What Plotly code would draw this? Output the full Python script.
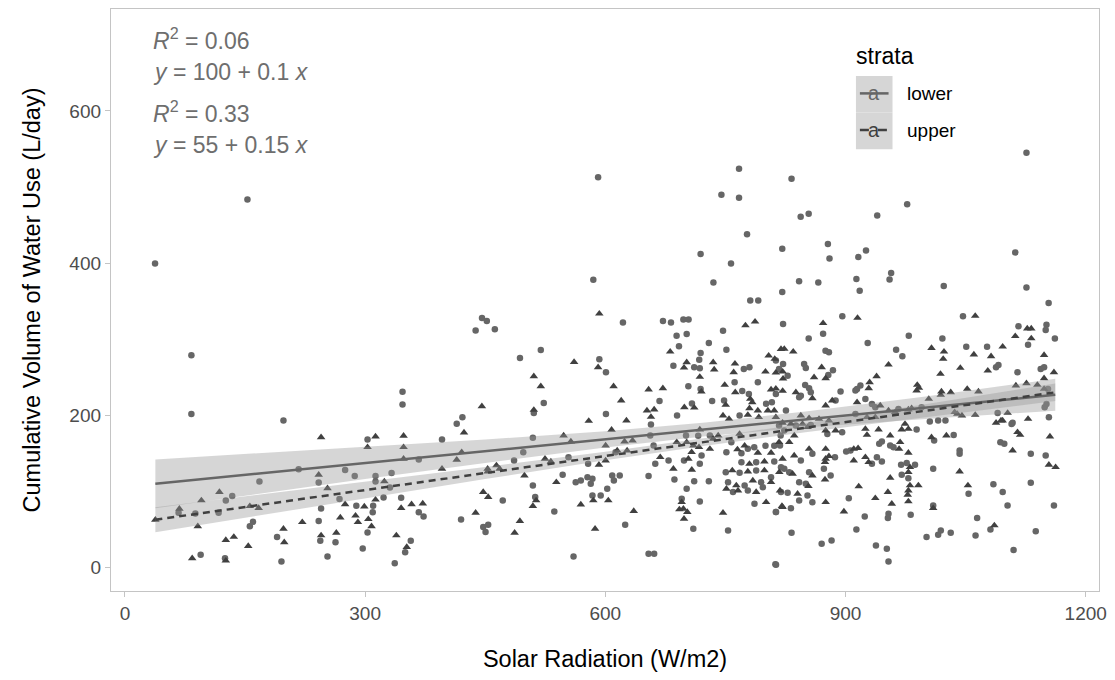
import plotly.graph_objects as go

# ---------------- data ----------------
lower_x = [153, 37.6, 591, 767, 745, 767, 777, 821, 719, 757, 585, 735, 821, 781, 791, 822, 446, 452, 438, 462, 622, 672, 682, 697.5, 704, 689, 701.6, 747,
           1126, 832.6, 977, 844, 854, 939.6, 878, 880, 916, 925.6, 1112, 842, 866, 913.6, 917.7, 955, 957, 1022.7, 1126, 1153.7, 1046.7, 896, 872, 854, 979, 1021, 1116, 1151, 1150, 1161.5,
           83, 83, 198, 346.7, 346.7, 303, 396, 367, 168, 217, 242, 275, 287, 313, 313, 333, 331, 323, 310, 309.5, 126, 134, 67, 88, 117, 160, 156, 242, 245, 268, 289, 303, 345, 367, 373, 190, 244, 263, 297, 357, 350, 94.6, 125, 195.5, 253, 337,
           519.4, 493.4, 592.5, 600.8, 523.1, 510.7, 421.5, 414.4, 600.8, 667.7, 657, 689.6, 708.2, 692, 729.3, 719, 717.3, 751.2, 685, 711, 718, 703.7, 719, 733.4, 773, 780, 761.5, 748.3, 771, 779.3, 790.5, 813, 800.8, 808, 767.7,
           509.5, 612.8, 660.3, 656.1, 700.8, 716, 730.6, 720.2, 698.3, 679, 662.4, 718, 751.2, 757.4, 770, 778, 786, 800, 811, 770, 788.4, 811, 750.4, 767.7, 788.4, 807, 753.3, 774, 794.6, 759.5, 778, 796.7, 819.4, 786.3, 813, 753.3,
           486, 497.5, 554, 509.5, 546.7, 578.5, 563, 569.4, 577.7, 583.9, 581.8, 608.6, 610.7, 618, 602.4, 583.9, 594.2, 654, 686.3, 701.6, 711, 729.3, 471.9, 512.4, 536.3, 695.4, 718, 419.8, 447.5, 453.7, 450.4, 624.8, 709.9, 560.3, 654, 661, 812.4,
           927.7, 875, 879.3, 963.2, 971, 1050.8, 1076.8, 1128, 813, 822, 817, 848.3, 850.4, 878.5, 884.3, 827.7, 849.6, 854.5, 856.6, 842.1, 844.2, 893.8, 918.6, 914.4, 912.4, 1088, 1091, 1114.8, 1143.8, 1148, 1152.9, 924.8, 933, 937.2, 887.6, 825.6, 912.4, 966.1, 995, 1090, 1108.7, 1148.7, 1154, 1151,
           817, 823.5, 819, 838, 856.6, 877.3, 895.8, 988.8, 1005.3, 1015.7, 1024.8, 1010.7, 1035.1, 1107.4, 1093.4, 1098.3, 1131.4, 1150, 1042.5, 1042.5, 1009.5, 818.2, 858.6, 886.8, 900.8, 906.2, 933, 939.2, 945.4, 942.1, 945.4, 955.8, 960, 969.4, 976.4, 986.8, 819.4, 823.5, 829.7, 844.2, 854.5, 873, 881.4, 842.1, 850.4, 827.7, 852.5, 831.8, 842.1, 858.6, 813.2, 904.1, 978.5, 970.2, 953.7, 952.9, 981.4, 924, 1009.5, 1053.7, 1084.7, 1096.3, 1102.4, 1131.4, 1160.3, 1064.4, 1081, 1137.6, 1062.4, 1109.9, 1001.2, 1015.7, 1019, 1031.4, 832.6, 870.2, 882.6, 913.6, 938, 951.6, 953.7, 813.2]
lower_y = [483.5, 399.5, 513, 524, 490, 486, 438, 419, 412, 399.5, 378, 374.6, 362, 351, 351, 320, 328, 324, 311.5, 313, 322, 324, 322, 326, 326, 304.6, 306.8, 311,
           545, 511, 477.5, 461, 465, 462.5, 425, 406, 408, 416.6, 414, 376, 374.6, 379, 363.6, 378.5, 387, 370, 368, 347.5, 330, 330, 307, 301, 304.6, 301, 317, 319, 312, 301,
           279, 201.6, 193, 231, 214, 168, 168, 141.8, 113, 129, 111.6, 128, 120, 120, 113, 124, 105, 92, 81, 72.6, 88, 94, 72, 71, 72, 60, 54, 61, 77.5, 90, 81, 46, 91.5, 72.6, 67, 40, 35, 33, 25, 35, 20, 16.7, 12, 7.9, 14.4, 5.6,
           285.8, 275.3, 273.5, 256.5, 216.2, 203, 197.4, 189, 201.8, 218.8, 187.8, 199.6, 215.4, 290.6, 295, 281.8, 273, 286.2, 265.2, 263, 261.7, 238, 234.6, 218.8, 260.8, 263, 243.3, 219.3, 232, 228, 243.3, 228, 215, 217, 199.6,
           170.3, 151.4, 160.2, 173.3, 173.3, 173, 173.3, 147, 140.5, 140.5, 136.1, 136.1, 151.4, 164.6, 150, 156, 158, 160, 160, 138.3, 138.3, 139.2, 125.2, 124.3, 127.4, 118.6, 112, 107.7, 112, 99, 101.1, 105.5, 99, 83.6, 72.7, 48.6,
           140.5, 151.4, 144.9, 107.7, 121.7, 136.1, 112, 114.2, 118.6, 116.4, 109.9, 120.8, 114.2, 120.8, 103.3, 94.6, 94.6, 120, 115.5, 103.3, 113.4, 113.4, 88, 92.4, 73.5, 90.2, 86.7, 63, 53, 56, 46.4, 56, 50.8, 14.5, 18, 18, 4,
           295, 284.9, 282.7, 286.2, 277.5, 290.2, 290.2, 292.8, 272, 267.4, 260.8, 267.4, 262.2, 253, 259, 252, 239.8, 235.5, 230.2, 223.7, 225.8, 231.1, 239, 234.6, 232.4, 263, 266, 256.5, 260.8, 263, 234.6, 221.4, 214.9, 210.5, 219.3, 206.1, 201.8, 208.3, 210.5, 203, 190, 210.5, 197.4, 214.9,
           186.5, 179.9, 173.3, 186.5, 187.3, 175.5, 177.7, 181.2, 191.7, 193, 193, 166.8, 174.2, 188.6, 164.6, 162.4, 149.3, 147.1, 153.6, 149.3, 129.6, 160.2, 149.3, 144.9, 152.3, 153.6, 136.1, 144.9, 139.2, 162.4, 165.4, 160.2, 158, 134.8, 137.4, 134.8, 131.7, 129.6, 125.2, 140.5, 125.2, 129.6, 120.8, 112, 109.9, 98, 94.6, 77.9, 88, 85.8, 72.7, 91, 117.3, 121.7, 70.5, 64.8, 69.2, 67, 81.4, 96.7, 109.4, 99, 81.4, 111.2, 81.4, 64.8, 49.9, 47.7, 42, 22.8, 39.9, 43, 48.6, 45.5, 45.5, 31.1, 35.5, 49.9, 28.9, 24.5, 7.9, 3.5]

upper_x = [592.5, 775, 787, 915, 872, 1062, 1127, 1132, 1112, 1132,
           245, 313, 303, 348, 348, 348, 396, 242, 253, 324, 313, 118, 95.5, 68, 38, 91, 156, 167, 221.5, 275, 269, 299, 288, 291, 304, 308, 345, 358, 372, 198, 199, 126, 136, 154, 245, 264, 339, 352, 84, 126,
           561, 591, 510.7, 519.4, 510.7, 445.8, 423.5, 610.3, 619.8, 579.3, 626.4, 607.8, 654.1, 671.9, 652, 661, 657, 698.7, 711.1, 681, 698.3, 701.6, 734.7, 736, 718, 720, 749.1, 761.9, 760.3, 750.4, 762.3, 781, 783.5, 780, 790.5, 791.7, 800, 804, 811.6, 807, 819.4, 821.5, 803, 811, 747, 754.5, 778, 813, 821.4,
           547.9, 557, 600.4, 624, 634, 614.8, 627.2, 689.2, 701.6, 707.8, 710, 718, 717, 734.7, 730.6, 703.7, 668.6, 685, 708, 741, 767.7, 765, 774, 790.5, 807, 817, 780, 798.7, 821.4, 758.6, 778, 798.7, 817.3, 763.6, 784.2, 751.2, 765.7, 788.4, 807, 800.8, 821.4, 747,
           414.4, 420.6, 453, 453, 464, 468, 499, 524.7, 532, 538.8, 592, 600.4, 585, 603.7, 447.5, 453.7, 513.6, 509.5, 569.4, 635.5, 695.4, 697.5, 692.5, 702.4, 698.3, 438, 486.7, 493.3, 587.2,
           823.5, 834.7, 1007.4, 1023, 1022, 1060.3, 1081.8, 1096.3, 1148, 870.2, 875.2, 860.7, 813, 822, 813, 821.5, 838, 858.6, 883.4, 938.8, 953.7, 930.1, 929, 989.6, 991.7, 988.8, 1018.6, 1043.4, 1077.7, 1160.3, 1148, 1112.8, 1126, 1139.6, 1148, 1019.8, 1019, 1031.4, 1052, 1066, 1004, 914.4, 943.4, 875.2, 844.2, 854.5, 866.9, 879.3, 926.8, 937.2, 953.7, 962, 978.5, 982.6, 1036.3, 1039.6, 1045.4, 1062, 1102.5, 1096.2, 1128,
           831.8, 846.3, 852.5, 875.2, 887.6, 924.8, 926.8, 941.3, 955.8, 970.2, 974.3, 978.5, 1007.4, 1026, 1088, 1094.2, 1114.8, 1118.1, 1108.7, 1155.3, 1154, 1162.4, 1042.5, 836, 829.7, 854.5, 875.2, 875.2, 879.3, 874.4, 910.3, 915.7, 910.3, 924.8, 928.9, 968.2, 966.9, 978.5, 980.5, 978.5, 833.9, 835.9, 858.6, 874.4, 853.7, 818.2, 840.1, 875.2, 820.6, 916.5, 937.2, 898, 952.9, 957.8, 978.5, 977.7, 978.5, 980.5, 991, 955.8, 1009.5, 1052.9, 1085.9]
upper_y = [333.5, 318, 323, 328, 321, 330.5, 314, 314, 304, 301,
           171, 172, 158, 173, 158, 142.7, 129.6, 121.7, 104, 113, 89, 99, 88, 77, 62.6, 54, 80.5, 78, 59.5, 83, 65.6, 80, 68, 59.5, 63.4, 54, 78, 83, 84, 50.8, 33, 36, 40, 28, 42, 45.5, 42, 26.7, 12, 8.8,
           270, 263, 251.2, 238, 207, 211.8, 177.3, 238, 219.3, 192.6, 193, 180.8, 233.7, 235.5, 206.2, 207.5, 197.8, 210.5, 210, 283.6, 262.6, 269.6, 269.6, 260, 250.3, 231, 239.8, 267.8, 256.5, 213.6, 230.2, 221.5, 217, 209.2, 206.1, 197.4, 257.3, 278.3, 274, 233.7, 287, 257.3, 206.1, 206.1, 199.6, 195.2, 200.5, 197.4, 190,
           173.3, 165.4, 160.2, 165.4, 166.8, 153.6, 153.6, 164.6, 164.6, 151.4, 160, 181.2, 158, 169, 155.8, 142.7, 144.9, 129.6, 128.3, 173.3, 175.5, 155, 160, 150.6, 150.6, 164.6, 136, 139.2, 142.7, 127.4, 126, 127.4, 125.2, 107.7, 114.2, 103.3, 101.1, 99, 112, 85.8, 79.3, 71.8,
           141.4, 151.4, 129.6, 126, 134, 129.6, 120.8, 142.7, 139.2, 112, 134.8, 140.5, 88, 88, 99, 92.4, 88, 80.6, 82.7, 74, 85.8, 77.1, 76.2, 72.7, 63.9, 71.8, 45.5, 60.9, 50.8,
           287.1, 283.6, 288.4, 283.6, 274, 279.7, 277.5, 290.2, 279.2, 263, 248.6, 249.9, 256, 248, 235, 232, 230.2, 222.3, 219.3, 251.2, 266.5, 243.3, 235.5, 239.8, 235.9, 232.4, 254.3, 262.2, 258.6, 256.5, 248.6, 239, 242, 239.8, 234.6, 231.1, 226.7, 230.2, 234.6, 231.1, 221.4, 217.1, 212.7, 212.7, 199.6, 196.1, 195.2, 193, 197.4, 197.4, 206.1, 204, 207.5, 209.2, 204, 201.8, 199.6, 200.5, 203, 193, 195.2,
           188.6, 188.6, 184.3, 179.9, 179.9, 182.1, 174.2, 181.2, 173.3, 181.2, 188.6, 182.1, 171.1, 173.3, 190, 193, 177.7, 174.2, 153.6, 172, 134.8, 131.7, 126, 173.3, 164.6, 155.8, 155.8, 142.7, 146.2, 138.3, 155.8, 156.7, 140.5, 144.9, 138.3, 164.6, 155.8, 150.6, 131.7, 125.2, 123, 147, 120.8, 115.5, 106.8, 101.1, 96.7, 85.8, 80.6, 106.4, 91, 73.5, 99, 83.6, 101.1, 95.4, 86.7, 107.7, 107.7, 117.7, 77.9, 107.7, 55.2]

# fitted lines and confidence bands
fit_x = [38, 150, 300, 450, 600, 725, 850, 1000, 1162]
lower_fit = [109.9, 121.6, 137.2, 152.8, 168.4, 181.4, 194.4, 210.0, 226.9]
lower_lo = [77.8, 94.4, 116.1, 137.4, 157.7, 172.4, 184.0, 195.2, 205.9]
lower_hi = [141.9, 148.8, 158.3, 168.2, 179.1, 190.4, 204.8, 224.8, 247.9]
upper_fit = [62.7, 79.4, 101.7, 124.1, 146.4, 165.0, 183.7, 206.0, 230.1]
upper_lo = [46.2, 65.4, 90.9, 116.2, 140.7, 160.0, 177.8, 197.8, 218.6]
upper_hi = [79.1, 93.4, 112.5, 132.0, 152.1, 170.0, 189.6, 214.2, 241.6]

strata = ["lower", "upper"]
eq_labels = ["<i>R</i><sup>2</sup> = 0.06", "<i>y</i> = 100 + 0.1 <i>x</i>",
             "<i>R</i><sup>2</sup> = 0.33", "<i>y</i> = 55 + 0.15 <i>x</i>"]
x_ticks = [0, 300, 600, 900, 1200]
y_ticks = [0, 200, 400, 600]

# ---------------- styles ----------------
FONT = "Liberation Sans, Arial, sans-serif"
COL_LOWER = "#666666"
COL_UPPER = "#404040"
RIBBON = "rgba(153,153,153,0.4)"

fig = go.Figure()

fig.add_trace(go.Scatter(x=lower_x, y=lower_y, mode="markers", showlegend=False,
                         marker=dict(symbol="circle", size=6.5, color=COL_LOWER), hoverinfo="skip"))
fig.add_trace(go.Scatter(x=upper_x, y=upper_y, mode="markers", showlegend=False,
                         marker=dict(symbol="triangle-up", size=7.5, color=COL_UPPER), hoverinfo="skip"))

# ribbons
fig.add_trace(go.Scatter(x=fit_x, y=lower_lo, mode="lines", line=dict(width=0), showlegend=False, hoverinfo="skip"))
fig.add_trace(go.Scatter(x=fit_x, y=lower_hi, mode="lines", line=dict(width=0), fill="tonexty",
                         fillcolor=RIBBON, showlegend=False, hoverinfo="skip"))
fig.add_trace(go.Scatter(x=fit_x, y=upper_lo, mode="lines", line=dict(width=0), showlegend=False, hoverinfo="skip"))
fig.add_trace(go.Scatter(x=fit_x, y=upper_hi, mode="lines", line=dict(width=0), fill="tonexty",
                         fillcolor=RIBBON, showlegend=False, hoverinfo="skip"))

# fit lines
fig.add_trace(go.Scatter(x=fit_x, y=lower_fit, mode="lines", showlegend=False, hoverinfo="skip",
                         line=dict(color=COL_LOWER, width=2.5)))
fig.add_trace(go.Scatter(x=fit_x, y=upper_fit, mode="lines", showlegend=False, hoverinfo="skip",
                         line=dict(color=COL_UPPER, width=2.5, dash="7px,5px")))

# equations
eq_y = [0.948, 0.891, 0.823, 0.766]
annotations = []
for txt, yy in zip(eq_labels, eq_y):
    annotations.append(dict(text=txt, x=0.040, y=yy, xref="paper", yref="paper", xanchor="left",
                            yanchor="middle", showarrow=False, font=dict(family=FONT, size=23, color="#6e6e6e")))

# custom legend
shapes = []
key_x0, key_x1 = 0.754, 0.791
key_rows = [(0.822, 0.885), (0.759, 0.822)]
line_y = [0.855, 0.792]
dashes = ["solid", "dash"]
cols = [COL_LOWER, COL_UPPER]
for (y0, y1), ly, d, c, name in zip(key_rows, line_y, dashes, cols, strata):
    shapes.append(dict(type="rect", xref="paper", yref="paper", x0=key_x0, x1=key_x1, y0=y0, y1=y1,
                       fillcolor="#d6d6d6", line=dict(width=0), layer="above"))
    shapes.append(dict(type="line", xref="paper", yref="paper", x0=key_x0 + 0.004, x1=key_x1 - 0.004,
                       y0=ly, y1=ly, line=dict(color=c, width=2.5, dash=d), layer="above"))
    annotations.append(dict(text="a", x=(key_x0 + key_x1) / 2, y=ly, xref="paper", yref="paper",
                            xanchor="center", yanchor="middle",
                            showarrow=False, font=dict(family=FONT, size=20, color=c)))
    annotations.append(dict(text=name, x=0.804, y=ly, xref="paper", yref="paper", xanchor="left",
                            yanchor="middle", showarrow=False, font=dict(family=FONT, size=19, color="black")))
annotations.append(dict(text="strata", x=0.752, y=0.919, xref="paper", yref="paper", xanchor="left",
                        yanchor="middle", showarrow=False, font=dict(family=FONT, size=23, color="black")))

axis_common = dict(showgrid=False, zeroline=False, showline=True, mirror=True, linecolor="#c4c4c4",
                   linewidth=1.3, ticks="outside", ticklen=5, tickcolor="#c4c4c4", tickwidth=1.3,
                   tickfont=dict(family=FONT, size=19, color="#4d4d4d"))

fig.update_layout(
    width=1115, height=680,
    margin=dict(l=111, r=8, t=8, b=89),
    paper_bgcolor="white", plot_bgcolor="white",
    showlegend=False,
    xaxis=dict(range=[-17.4, 1216.6], tickvals=x_ticks, ticktext=[str(v) for v in x_ticks],
               title=dict(text="Solar Radiation (W/m2)", font=dict(family=FONT, size=23.5, color="black"), standoff=27),
               **axis_common),
    yaxis=dict(range=[-31, 734], tickvals=y_ticks, ticktext=[str(v) for v in y_ticks],
               title=dict(text="Cumulative Volume of Water Use (L/day)", font=dict(family=FONT, size=23.5, color="black"), standoff=22),
               **axis_common),
    annotations=annotations,
    shapes=shapes,
)

fig.write_html("out.html", config={"displayModeBar": False},
               post_script="document.body.style.margin='0';document.body.style.overflow='hidden';")
